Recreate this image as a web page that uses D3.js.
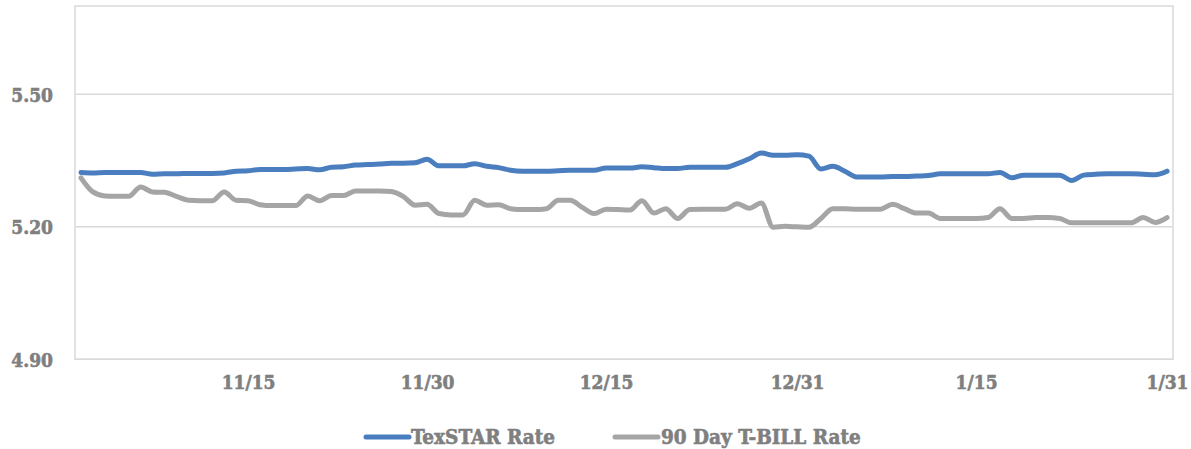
<!DOCTYPE html>
<html>
<head>
<meta charset="utf-8">
<script src="https://cdn.jsdelivr.net/npm/d3@7/dist/d3.min.js"></script>
<style>
  html, body { margin: 0; padding: 0; background: #fff; }
  svg { display: block; }
  .lbl { font-family: "DejaVu Serif Condensed", "DejaVu Serif", serif; font-weight: bold; fill: #7f7f7f; stroke: #7f7f7f; stroke-width: 0.6px; }
</style>
</head>
<body>
<svg id="chart" width="1191" height="449"></svg>
<script>
// Categories: daily from 11/1 to 1/31
const categories = d3.timeDay.range(new Date(2023, 10, 1), new Date(2024, 1, 1));
const tickLabels = ["11/15", "11/30", "12/15", "12/31", "1/15", "1/31"];
const yTicks = [4.90, 5.20, 5.50];

const texstar = [
  5.323, 5.322, 5.323, 5.323, 5.323, 5.323, 5.319, 5.320, 5.320, 5.321,
  5.321, 5.321, 5.322, 5.326, 5.327, 5.330, 5.330, 5.330, 5.331, 5.332,
  5.329, 5.335, 5.336, 5.340, 5.341, 5.342, 5.344, 5.344, 5.345, 5.353,
  5.338, 5.338, 5.338, 5.343, 5.337, 5.334, 5.328, 5.326, 5.326, 5.326,
  5.327, 5.328, 5.328, 5.328, 5.333, 5.333, 5.333, 5.336, 5.334, 5.332,
  5.332, 5.335, 5.335, 5.335, 5.335, 5.343, 5.354, 5.367, 5.362, 5.362,
  5.363, 5.360, 5.331, 5.337, 5.326, 5.313, 5.313, 5.313, 5.314, 5.314,
  5.315, 5.316, 5.320, 5.320, 5.320, 5.320, 5.320, 5.323, 5.311, 5.317,
  5.317, 5.317, 5.317, 5.305, 5.317, 5.319, 5.320, 5.320, 5.320, 5.319,
  5.318, 5.326
];
const tbill = [
  5.311, 5.279, 5.270, 5.269, 5.269, 5.290, 5.279, 5.278, 5.269, 5.260,
  5.259, 5.259, 5.279, 5.260, 5.259, 5.250, 5.248, 5.248, 5.248, 5.270,
  5.259, 5.271, 5.271, 5.281, 5.281, 5.281, 5.280, 5.269, 5.249, 5.251,
  5.230, 5.227, 5.227, 5.260, 5.249, 5.250, 5.241, 5.239, 5.239, 5.241,
  5.260, 5.260, 5.244, 5.230, 5.240, 5.239, 5.238, 5.259, 5.231, 5.241,
  5.219, 5.239, 5.240, 5.240, 5.240, 5.252, 5.242, 5.254, 5.199, 5.201,
  5.200, 5.199, 5.219, 5.241, 5.241, 5.240, 5.240, 5.240, 5.251, 5.241,
  5.231, 5.231, 5.219, 5.219, 5.219, 5.219, 5.221, 5.241, 5.219, 5.219,
  5.221, 5.221, 5.219, 5.209, 5.209, 5.209, 5.209, 5.209, 5.209, 5.221,
  5.210, 5.221
];
const seriesNames = ["TexSTAR Rate", "90 Day T-BILL Rate"];
const seriesColors = ["#4a7ebf", "#a5a5a5"];

const fmt = d3.timeFormat("%-m/%-d");
const svg = d3.select("#chart");
const m = { left: 75, right: 1173, top: 6, bottom: 359.3 };

const x = d3.scalePoint().domain(categories.map(fmt)).range([m.left, m.right]).padding(0.5);
const y = d3.scaleLinear().domain([4.90, 5.70]).range([m.bottom, m.top]);

// plot border
svg.append("rect")
  .attr("x", m.left).attr("y", m.top)
  .attr("width", m.right - m.left).attr("height", m.bottom - m.top)
  .attr("fill", "none").attr("stroke", "#d9d9d9").attr("stroke-width", 1.5);

// gridlines
svg.append("g").selectAll("line").data(yTicks).join("line")
  .attr("x1", m.left).attr("x2", m.right)
  .attr("y1", d => y(d)).attr("y2", d => y(d))
  .attr("stroke", "#d9d9d9").attr("stroke-width", 1.5);

// y axis
const yAxis = d3.axisLeft(y).tickValues(yTicks).tickFormat(d3.format(".2f")).tickSize(0).tickPadding(22);
const gy = svg.append("g").attr("transform", `translate(${m.left},0)`).call(yAxis);
gy.select(".domain").remove();
gy.selectAll("text").attr("class", "lbl").attr("font-size", 19).attr("dy", "0.36em");

// x axis
const xAxis = d3.axisBottom(x).tickValues(tickLabels).tickSize(0).tickPadding(16);
const gx = svg.append("g").attr("transform", `translate(0,${m.bottom})`).call(xAxis);
gx.select(".domain").remove();
gx.selectAll("text").attr("class", "lbl").attr("font-size", 19);

// lines
const line = d3.line()
  .x((d, i) => x(fmt(categories[i])))
  .y(d => y(d))
  .curve(d3.curveMonotoneX);

[texstar, tbill].forEach((s, k) => {
  svg.append("path").datum(s)
    .attr("d", line)
    .attr("fill", "none")
    .attr("stroke", seriesColors[k])
    .attr("stroke-width", 5)
    .attr("stroke-linejoin", "round")
    .attr("stroke-linecap", "round");
});

// legend
const legendItems = [
  { x1: 366, x2: 409, tx: 411 },
  { x1: 615, x2: 658, tx: 661 }
];
const ly = 437;
const lg = svg.append("g");
legendItems.forEach((it, k) => {
  lg.append("line")
    .attr("x1", it.x1).attr("x2", it.x2).attr("y1", ly).attr("y2", ly)
    .attr("stroke", seriesColors[k]).attr("stroke-width", 5).attr("stroke-linecap", "round");
  lg.append("text").attr("class", "lbl").attr("font-size", 20.5)
    .attr("x", it.tx).attr("y", ly).attr("dy", "0.36em")
    .text(seriesNames[k]);
});
</script>
</body>
</html>
